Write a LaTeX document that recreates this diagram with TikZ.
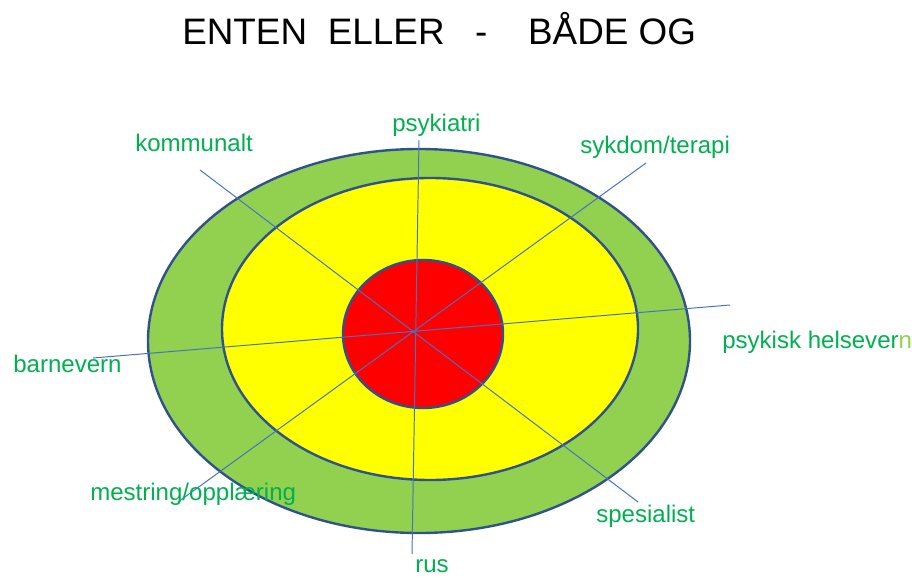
\documentclass[tikz,border=0pt]{standalone}
\usepackage{fontspec}
\setmainfont{Liberation Sans}
\usetikzlibrary{positioning}

\definecolor{lblgreen}{HTML}{00B050}
\definecolor{ringgreen}{HTML}{92D050}
\definecolor{ringyellow}{HTML}{FFFF00}
\definecolor{rimblue}{HTML}{2F528F}
\definecolor{spokeblue}{HTML}{4472C4}

\tikzset{
  lbl/.style={text=lblgreen, font=\fontsize{17.1}{20}\selectfont, anchor=base west, inner sep=0pt},
  rim/.style={draw=rimblue, line width=1.7pt},
  spoke/.style={draw=spokeblue, line width=0.7pt}
}

\begin{document}
\begin{tikzpicture}[x=0.025cm, y=-0.025cm]
\useasboundingbox (0,0) rectangle (912,577);

% title
\node[anchor=base west, inner sep=0pt, font=\fontsize{26.2}{30}\selectfont] (title) at (182,45)
  {ENTEN\hspace{0.52cm}ELLER\hspace{0.76cm}-\hspace{1.02cm}BÅDE OG};

% rings
\fill[ringgreen, rim] (419,341) ellipse [x radius=271, y radius=192];
\fill[ringyellow, rim] (430,329) ellipse [x radius=208, y radius=151];
\fill[red, rim] (423,334) ellipse [x radius=80, y radius=74];

% spoke ends
\coordinate (kom) at (200,170);
\coordinate (spe) at (638,502);
\coordinate (syk) at (646,163);
\coordinate (mes) at (178,502);
\coordinate (psy) at (419,140);
\coordinate (rus) at (412,554);
\coordinate (bar) at (93,358);
\coordinate (hel) at (730,305);

\draw[spoke] (kom) -- (spe);
\draw[spoke] (syk) -- (mes);
\draw[spoke] (psy) -- (rus);
\draw[spoke] (bar) -- (hel);

% labels
\node[lbl] (kommunalt) at (135,152) {kommunalt};
\node[lbl] (psykiatri) at (392,132) {psykiatri};
\node[lbl] (sykdom) at (580,153) {sykdom/terapi};
\node[lbl] (helsevern) at (722,348) {psykisk helsever\textcolor{ringgreen}{n}};
\node[lbl] (barnevern) at (13,372) {barnevern};
\node[lbl] (mestring) at (90,500) {mestring/opplæring};
\node[lbl] (spesialist) at (596,522) {spesialist};
\node[lbl] (ruslbl) at (415,572) {rus};

\end{tikzpicture}
\end{document}
